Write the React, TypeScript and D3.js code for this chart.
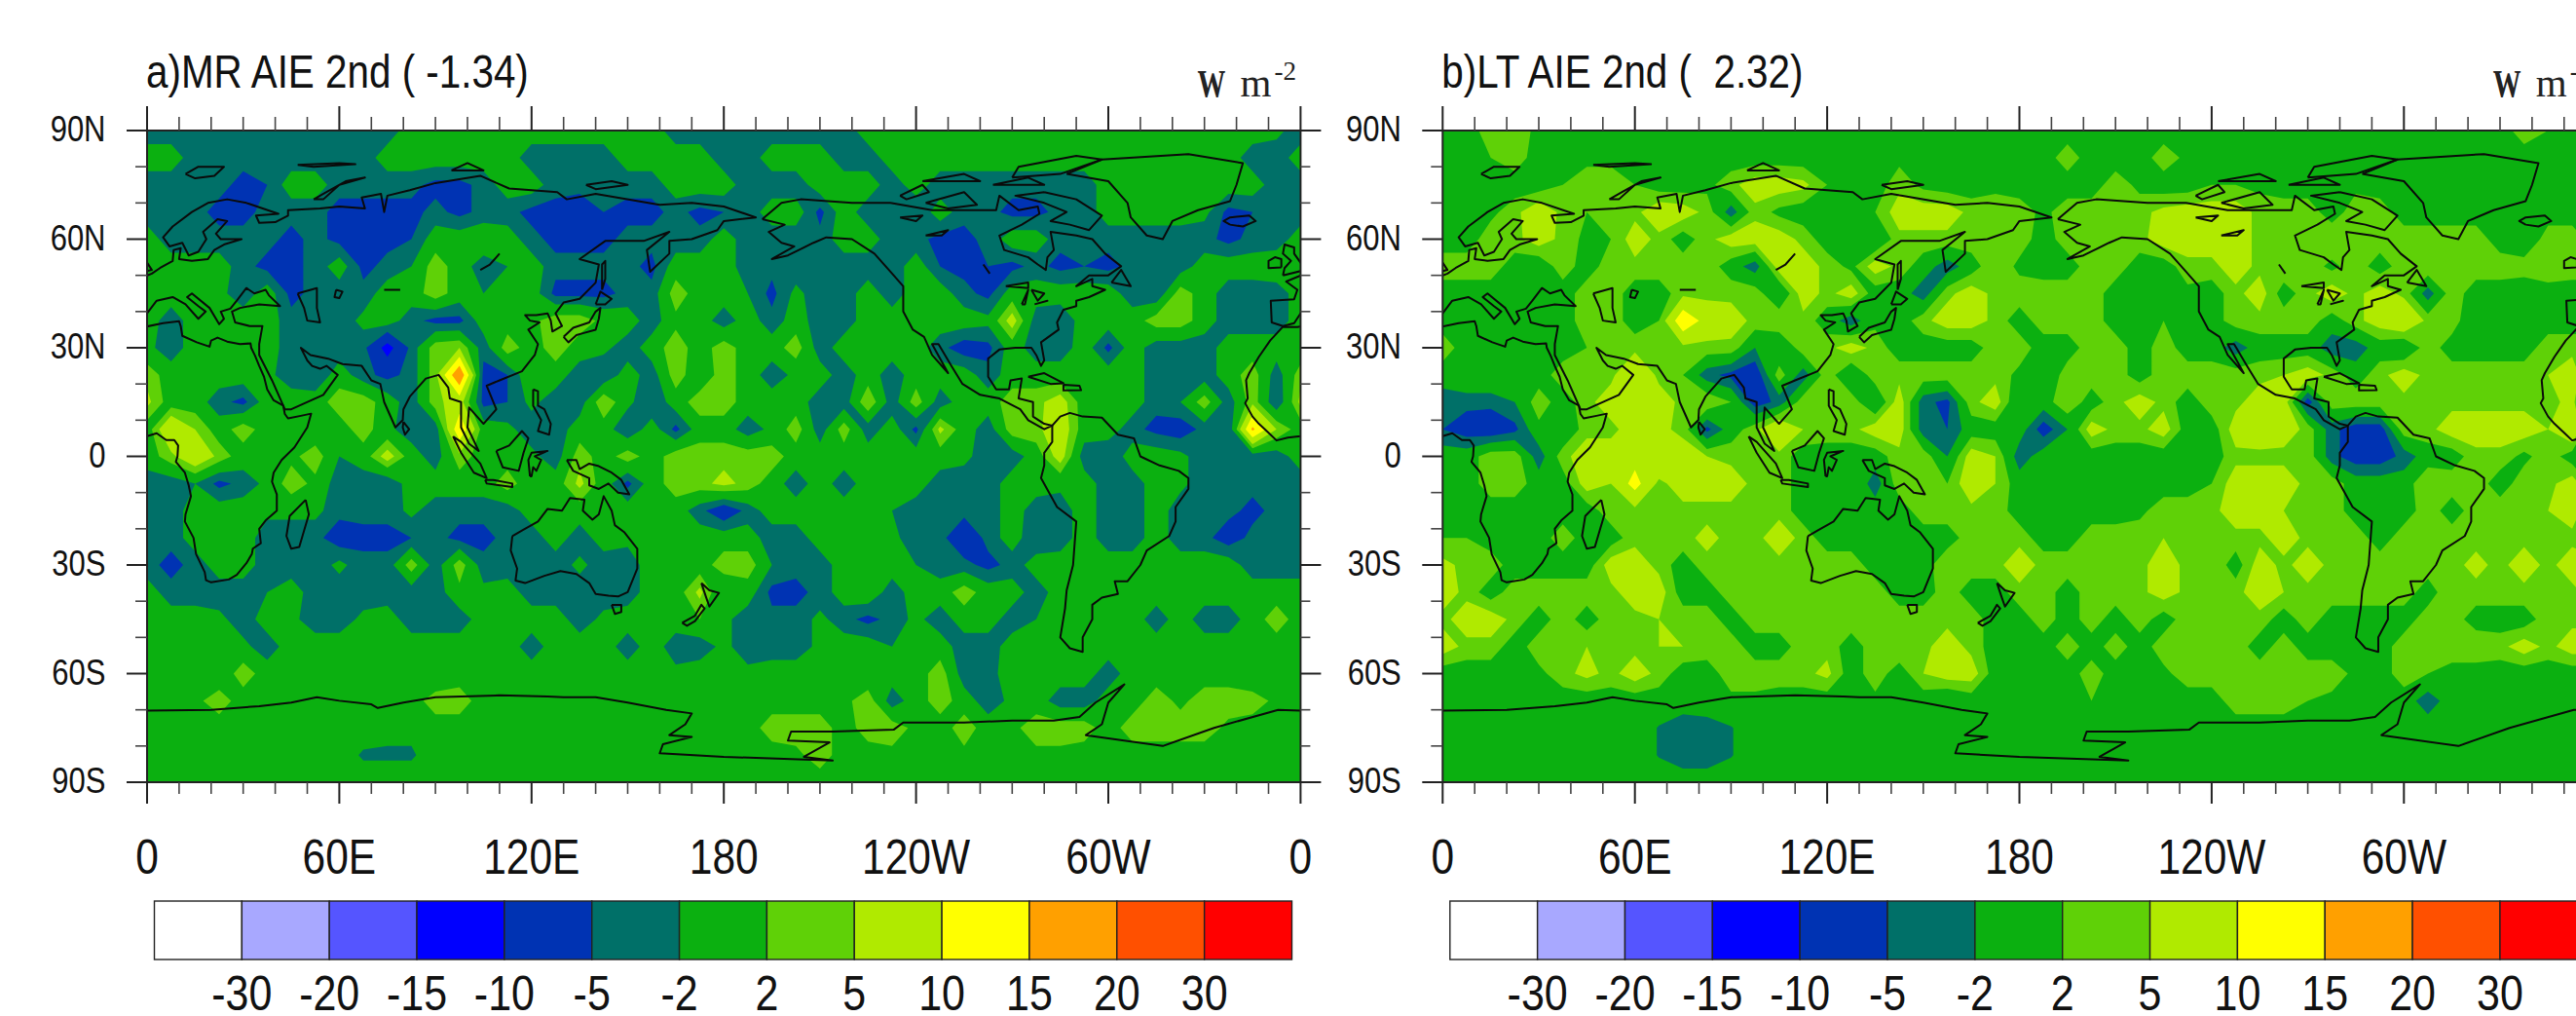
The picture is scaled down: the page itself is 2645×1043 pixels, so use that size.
import React from 'react';
import * as d3 from 'd3';

const width = 2645;
const height = 1043;

// grid spacing of the read-off fields (degrees), rows run 90N -> 90S, columns 0 -> 352.5E
const gridStep = 7.5;

const levels = [-30, -20, -15, -10, -5, -2, 2, 5, 10, 15, 20, 30];
const levelLabels = ['-30', '-20', '-15', '-10', '-5', '-2', '2', '5', '10', '15', '20', '30'];
const colors = ['#ffffff', '#a8a8ff', '#5555ff', '#0000ff', '#0033b3', '#007068', '#0bb010', '#5fd107', '#b0ea00', '#ffff00', '#ffa000', '#ff5000', '#ff0000'];

const lonTicks = [0, 60, 120, 180, 240, 300, 360];
const lonLabels = ['0', '60E', '120E', '180', '120W', '60W', '0'];
const latTicks = [90, 60, 30, 0, -30, -60, -90];
const latLabels = ['90N', '60N', '30N', '0', '30S', '60S', '90S'];

const mrField = [
  [-4,-4,-4,-4,-4,-4,-4,-4,-4,-4,-4,0,0,0,0,0,0,0,0,0,0,0,-4,-4,-4,-4,-4,-4,-4,-4,0,0,0,0,0,0,0,0,0,0,0,0,0,0,0,0,0,-1],
  [0,0,-4,-4,-4,-4,-4,-4,-4,-4,0,0,0,0,0,0,-4,-4,-4,-4,0,0,0,0,-4,-4,0,0,0,-4,-4,0,0,0,0,0,0,0,0,0,0,0,0,0,0,0,-4,-4],
  [-4,-4,-4,-4,-6,-5,0,0,-4,-4,-4,-4,-6,-6,-4,0,0,-4,-4,-4,-4,-4,0,0,0,-4,-4,-4,0,0,0,-4,0,-4,-4,-4,-4,-4,-4,-4,0,0,0,0,0,0,0,-4],
  [-4,-4,-4,-6,-6,-4,-4,-4,-6,-6,-6,-6,-4,-6,-4,-4,-6,-6,-7,-5,-6,-6,-4,-6,-5,-4,0,0,-6,0,-4,-5,-5,0,-4,-4,-6,-6,-4,-4,0,0,0,0,-1,-6,-5,-4],
  [0,-4,-4,-4,-4,-4,-6,-4,-6,-6,-6,-5,0,0,1,0,-4,-6,-6,-6,-4,-4,-4,-4,0,-4,-4,-4,-4,0,0,-4,-4,-6,-6,-4,0,0,-4,-4,-4,-4,-4,-4,-4,-6,-4,-4],
  [-1,0,0,0,-4,-6,-6,-4,0,-6,-4,-2,4,0,-4,-2,0,-4,-4,-4,-4,-6,0,0,0,-4,-4,-4,-4,-4,-4,-4,0,-5,-6,-5,-6,-4,-6,-5,-6,-4,-4,-4,0,0,0,1],
  [0,0,0,-1,-4,0,-6,-4,-4,-4,0,0,4,0,-2,0,0,-6,-6,-6,-4,-4,4,0,0,-2,-6,-1,-4,-4,0,-4,0,0,-4,-6,0,0,0,0,0,-4,-5,4,0,-4,-4,-4],
  [0,-4,0,0,0,0,-4,-4,-4,-1,0,-4,-6,-6,0,0,1,4,4,1,0,-4,1,0,-4,0,-4,0,-4,-4,0,0,0,0,0,-1,7,-4,-5,0,0,0,4,4,0,-4,-4,-4],
  [-1,-4,0,0,0,0,-4,-4,-4,-4,-12,-4,4,5,-4,4,0,4,0,-1,-4,0,4,0,4,0,0,4,-4,0,0,0,0,-4,-7,-6,0,-4,-4,0,-6,0,-4,-4,-4,0,0,0],
  [4,0,-1,0,0,-1,-4,-5,0,-4,-6,-4,4,20,-6,-5,1,0,-4,-5,0,-4,4,-1,4,0,-4,-1,0,-4,0,-4,0,0,0,-4,0,0,0,0,0,0,-4,-4,-4,0,4,-4],
  [6,0,0,-4,-6,0,0,0,4,4,0,-4,4,7,-6,-5,-1,-4,-4,5,-1,-5,0,4,4,0,0,0,-4,-4,5,-4,4,-4,0,0,4,4,7,0,0,0,-4,-2,4,-4,4,-5],
  [0,10,5,0,4,0,0,-1,0,4,-1,-4,-4,14,0,-1,-4,-4,0,0,-5,0,-6,0,0,-4,-1,4,-4,4,-4,0,-6,6,0,-4,4,4,8,0,0,-4,-6,-7,-4,-5,16,5],
  [0,4,9,4,0,0,1,4,-2,0,7,0,-4,4,0,0,-1,-4,4,0,4,0,4,4,4,4,4,0,0,0,0,0,0,0,-1,-4,-4,0,7,-4,-5,0,0,-1,-4,-4,-4,-4],
  [-4,-4,-2,-6,-4,-1,4,1,-4,-4,-5,0,0,0,0,4,-1,0,6,0,-6,0,4,4,6,4,0,-4,0,-4,0,0,0,-4,-4,-4,0,0,-1,0,-4,-4,0,-1,-4,-4,-4,-4],
  [-4,-4,0,0,0,-1,-1,-1,-4,-4,-4,-1,-4,-4,-4,-4,0,0,0,0,0,-1,0,-4,-8,-4,0,0,0,0,0,-2,-4,-4,-4,-4,0,-4,-4,0,-4,-4,0,-4,-4,-4,-6,-4],
  [-4,-4,0,0,0,-4,-4,-4,-7,-6,-6,-5,-4,-6,-6,-4,-4,0,-4,0,-1,0,0,0,0,0,-4,-4,0,0,0,-1,-4,-4,-8,-4,0,-5,-4,0,-4,-4,0,-4,-4,-7,-4,-4],
  [-4,-6,-4,0,0,-4,-4,-4,-1,-4,-4,4,-4,4,-4,-4,-4,-4,-1,-4,-4,0,0,0,4,4,-2,-4,-4,0,0,0,-2,-4,-4,-6,-4,0,0,0,0,0,0,0,0,0,-4,-4],
  [0,-4,-4,-4,-4,-2,0,-4,-4,-4,-4,-4,-4,1,-1,0,-4,-4,-4,-4,-4,0,0,6,-2,0,-6,-6,-4,0,1,-4,0,0,4,0,0,-4,0,0,0,0,0,0,0,0,0,0],
  [0,0,0,-1,-4,0,-1,-4,-4,-1,0,-4,-4,-4,0,0,0,0,-4,-1,0,0,0,2,-1,-4,-4,-4,-1,-4,-6,-4,-1,-4,0,0,-4,-2,0,0,0,0,-4,0,-4,-4,0,4],
  [0,0,0,0,-1,-4,0,0,0,0,0,0,0,0,0,0,-4,0,0,0,-4,0,-4,-4,-1,-4,-4,-4,-1,0,0,-2,-1,0,-4,-4,0,-1,-1,0,0,0,0,0,0,0,0,0],
  [0,0,0,-1,4,0,-1,0,0,0,-2,-2,-2,0,0,0,0,0,0,0,0,1,-1,0,0,-1,0,0,0,0,-1,0,0,4,-4,-4,1,0,0,0,-4,0,0,0,0,0,-2,0],
  [0,0,1,4,0,0,0,0,0,0,0,0,4,4,0,0,0,0,2,0,0,0,0,-1,0,0,0,0,0,1,4,-4,0,4,0,-4,-1,0,-4,-4,0,0,4,1,4,4,4,1],
  [0,0,0,0,0,0,0,0,0,0,-1,-1,0,0,0,0,0,0,0,0,0,0,0,1,0,0,4,4,4,0,4,4,1,0,4,0,1,4,4,4,0,4,4,4,4,1,0,0],
  [0,0,0,0,0,0,0,0,0,-2.5,-2.5,-2.5,0,0,0,0,0,0,0,0,0,0,0,0,0,0,0,1,4,0,0,1,0,0,1,0,1,1,1,0,0,0,0,0,0,0,0,0],
  [0,0,0,0,0,0,0,0,0,0,0,0,0,0,0,0,0,0,0,0,0,0,0,0,0,0,0,0,0,0,0,0,0,0,0,0,0,0,0,0,0,0,0,0,0,0,0,0],
];

const ltField = [
  [0,0,4,4,1,0,0,0,0,0,0,0,0,0,0,0,0,0,0,0,0,0,0,0,0,0,0,0,0,0,0,0,0,0,0,0,0,0,0,0,0,0,0,0,0,4,2,0],
  [0,0,2,4,0,1,1,1,0,0,1,0,0,0,0,0,0,0,2,1,0,1,0,0,0,0,4,0,0,0,4,1,0,0,0,0,0,0,0,0,0,0,0,0,0,0,0,0],
  [2,0,0,0,0,2,4,4,2,0,0,1,4,7,7,6,2,0,0,4,1,0,0,1,0,0,0,0,4,1,0,0,2,2,1,0,0,0,1,0,0,0,0,0,0,0,0,0],
  [1,0,1,4,8,4,2,2,4,8,7,4,-4,4,1,0,0,0,2,7,7,7,4,4,4,1,4,4,4,4,6,7,7,7,4,4,4,0,4,4,0,0,0,0,0,0,0,0],
  [0,0,4,4,7,4,1,2,7,4,0,4,7,7,7,4,0,0,-2,4,4,4,4,4,4,0,4,4,4,4,7,7,7,7,4,4,4,5,4,4,4,4,4,4,0,-2,4,4],
  [4,4,4,0,-1,4,0,4,4,4,4,4,0,-4,7,7,4,1,7,4,0,-4,0,5,1,0,0,4,4,0,0,4,4,7,4,5,4,1,4,0,4,5,4,4,4,4,5,4],
  [0,0,0,1,0,0,4,4,0,0,4,4,4,4,-2,7,4,7,0,0,-4,4,7,4,4,4,4,4,0,0,0,1,0,4,7,0,4,7,4,7,4,-4,4,0,0,-1,0,0],
  [0,0,0,0,0,0,4,4,0,2,14,8,7,4,5,4,0,-4,1,0,4,7,7,4,0,4,4,4,0,0,2,0,0,4,4,4,4,0,4,7,10,4,4,-2,0,-2,0,0],
  [4,0,0,0,0,0,2,4,4,4,4,4,4,-2,-2,4,4,7,4,0,0,0,0,4,4,0,0,4,4,0,4,0,0,-4,0,0,0,-4,-4,0,-2,4,0,0,0,0,4,4],
  [0,2,2,0,0,4,4,4,10,4,2,-4,-6,-8,4,-4,4,-2,4,4,4,4,4,4,1,-2,4,4,4,0,4,4,4,4,4,5,7,4,0,4,7,4,4,4,4,4,5,7],
  [-4,-4,-4,-2,4,0,4,7,7,7,4,5,2,-7,-4,4,4,4,-2,7,-4,-6,4,7,-2,0,5,0,4,7,4,0,4,4,7,7,-7,4,4,4,4,4,4,4,4,4,4,6],
  [-5,-7,-8,-6,1,-2,4,4,7,6,4,-6,0,4,10,5,4,4,7,7,-4,-5,0,0,0,-7,-2,7,4,4,7,0,0,7,8,7,4,-4,-7,-7,4,4,7,7,7,7,5,10],
  [0,0,4,4,-4,4,7,7,8,10,7,5,4,5,4,0,0,0,0,4,4,-2,7,5,-4,0,0,0,0,0,0,0,0,4,4,4,4,-4,-7,-7,-4,0,0,4,4,1,4,0],
  [0,0,4,4,0,0,7,5,12,4,7,7,7,4,4,0,2,2,-4,4,5,2,8,5,0,0,0,0,0,0,0,0,2,7,7,7,4,4,0,0,0,5,4,4,0,4,4,7],
  [1,0,0,0,0,0,0,4,4,4,4,4,4,4,4,0,0,0,0,0,4,4,4,4,0,0,0,0,0,1,4,4,4,7,7,5,4,4,0,0,0,4,0,4,4,4,5,7],
  [2,2,0,0,0,4,0,0,4,4,4,6,4,4,7,4,0,0,0,0,0,0,4,4,4,0,0,4,4,4,5,4,4,4,4,7,4,4,4,0,4,4,4,4,4,4,4,4],
  [6,4,4,0,0,0,0,7,7,4,0,4,4,4,4,4,4,4,0,0,0,5,4,4,7,4,4,5,4,4,7,4,5,0,7,4,7,4,4,4,4,4,4,6,4,7,4,7],
  [7,4,0,4,4,4,4,4,7,7,0,0,4,4,4,4,4,4,4,0,0,4,0,0,4,4,0,4,4,4,7,4,4,4,7,5,4,4,4,4,4,0,5,4,4,4,5,4],
  [4,7,7,4,0,4,0,4,4,5,4,4,0,4,4,4,4,4,4,4,4,4,4,0,0,4,0,4,0,4,0,4,4,4,4,0,4,0,0,0,0,4,4,0,0,0,4,4],
  [7,4,4,0,4,4,5,4,4,5,5,4,4,0,0,4,4,0,4,5,4,7,4,0,0,0,4,0,4,0,4,4,4,4,0,4,0,0,0,0,4,4,5,5,4,7,4,7],
  [0,0,0,0,1,4,6,4,7,4,0,0,4,4,4,4,6,0,4,0,5,7,7,0,0,0,0,4,0,0,1,4,4,4,4,4,4,4,1,0,4,2,0,0,0,0,0,0],
  [0,0,0,0,0,0,0,0,0,0,0,1,1,1,0,0,0,0,1,0,0,-2,0,0,0,0,0,2,0,0,0,0,0,4,4,4,2,1,1,0,0,-4,0,0,0,0,0,0],
  [0,0,0,0,0,0,0,0,0,-2.2,-4,-4,-2.2,0,0,0,0,0,0,0,0,0,0,0,0,0,0,0,0,0,0,0,0,0,0,0,0,0,0,0,0,0,0,0,0,0,0,0],
  [0,0,0,0,0,0,0,0,0,-2.2,-4,-4,-2.2,0,0,0,0,0,0,0,0,0,0,0,0,0,0,0,0,0,0,0,0,0,0,0,0,0,0,0,0,0,0,0,0,0,0,0],
  [0,0,0,0,0,0,0,0,0,0,0,0,0,0,0,0,0,0,0,0,0,0,0,0,0,0,0,0,0,0,0,0,0,0,0,0,0,0,0,0,0,0,0,0,0,0,0,0],
];

// rough coastlines [lon, lat], drawn twice (+360) so the map can run 0 -> 360
const coastlines: number[][][] = [
  // africa
  [[-5.5,35.8],[-9.5,32],[-13,27.5],[-16,23],[-17,21],[-16.5,16],[-17.3,14.7],[-15,11],[-13,9],[-10,6.5],[-7.5,4.4],[-4,5.2],[0,5.6],[3,6.4],[6,4.5],[8.5,4.5],[9.7,3],[9.5,0],[9,-1.5],[11.8,-4.5],[13,-8],[13.7,-11],[12,-16],[11.8,-18],[14.5,-22.5],[15.3,-27],[18,-32],[18.4,-34.2],[20,-34.8],[25.5,-34],[28,-32.7],[31,-29.5],[32.7,-27],[33,-25.5],[35.5,-24],[35,-20],[37,-17.7],[40.5,-15],[40.5,-10.5],[39,-7],[39.5,-4.5],[42,-1],[46,2.5],[50,8],[51.2,11.8],[48,11.2],[44,10.5],[43,11.7],[42.5,14],[39.5,15.5],[37.5,18.5],[36.5,22],[35,25],[33.7,27.8],[32.5,30],[32.3,31.2],[29,31],[25,31.7],[22,32.8],[20,32],[19.5,30.3],[15.5,31.5],[11,33.3],[10.5,36],[10,37.3],[5,36.8],[-1,35.7],[-5.5,35.8]],
  // eurasia
  [[-5.5,36],[-9,37],[-9.3,43],[-2,43.4],[-1,46],[-4.5,48.3],[1.5,50.5],[4,52],[8,54],[8.3,57],[10.5,57.5],[10,54.5],[14,54],[19,54.5],[21,57],[24,58.5],[29.5,60],[23,60],[21.5,61.5],[25,65],[22,65.5],[17.5,62],[18.5,60],[16,56.5],[13,55.5],[11,59],[7,58],[5,60.5],[8,63.5],[14,67.5],[19,70],[25,71],[31,70],[41,67],[34,66.5],[35,64.5],[40,64.7],[44,66.5],[44,68],[54,68.5],[60,69],[68,68.5],[67,71.5],[73,72.5],[74,67.5],[75,72],[82,73.5],[90,75.5],[104,77.5],[113,74],[128,73],[131,71],[140,72.5],[160,69.5],[170,70],[180,69],[190,66],[180,65],[178,62.5],[170,60],[163,59.5],[163,56],[157,51],[156,57],[163,62],[155,59.5],[143,59.5],[135,54.5],[141,53],[140,48],[135,43.5],[130,42.5],[127.5,39.5],[129.5,36],[126.5,34.5],[126,37.5],[125,39.5],[121.5,39],[118,39],[119.5,37.5],[122.5,37],[119,35],[122,31],[121,28],[117,23.5],[110,21],[106,19.5],[109,13],[105,9],[100.5,13.5],[100,8],[103.5,1.5],[100.5,3.5],[98,8],[98,15],[94.5,16],[94,19],[91,22.5],[87,21.5],[82,16.5],[80,13],[79.8,10],[77.5,8],[74,15],[72.8,20],[70,21],[67,25],[61,25.5],[56.5,27],[51,28],[48,30],[50,26.5],[51.5,25],[54,24.2],[56,25],[59.5,22.5],[55,17],[45,13],[43,13],[39,21],[35,28],[35,31],[36,36],[32,36],[27.5,37],[26.5,40],[29,41],[35,42],[41.5,41.5],[38,44.5],[37,46],[33.5,45],[31,46.5],[28,43],[26,40.8],[23,40],[24,38],[22.5,36.5],[19.5,41],[14,45],[12.5,44],[16,41.5],[18.3,40],[16,38],[12,42],[8,44],[3,43],[0,39.5],[-2,36.8],[-5.5,36]],
  // islands, eastern hemisphere
  [[-5.5,50],[1.5,51.5],[0,53.5],[-2,56],[-2,57.7],[-5,58.5],[-5.5,56],[-3,54],[-5,52],[-5.5,50]],
  [[-6,52.2],[-10,52],[-10,54],[-8,55],[-6,54.5],[-6,52.2]],
  [[49.5,-12],[50.5,-16],[47.5,-25],[45,-25.5],[43.5,-22],[44.5,-16.5],[49.5,-12]],
  [[80,9.5],[81.8,7.5],[80.5,6],[79.8,8],[80,9.5]],
  [[130,33],[131.5,31.5],[134,33.5],[136,34],[140,35],[141,38],[141.5,41],[140,40],[138,37],[133,35.5],[130,33]],
  [[140,42],[141.5,45.5],[145,43.5],[143,42],[140,42]],
  [[142,46],[143,49],[143,54],[142,53],[142,46]],
  [[120.5,18.5],[122,18],[122,14],[124,13],[126,9],[125.5,6],[122,7],[123,10],[120.5,14],[120.5,18.5]],
  [[109,1.5],[113,3],[117,7],[119,5],[117.5,1],[116,-4],[111,-3],[109,1.5]],
  [[95.5,5.5],[98,4],[104,-2],[106,-6],[102,-4.5],[98,1],[95.5,5.5]],
  [[105.5,-6.5],[108,-6.5],[114,-7.5],[114,-8.5],[106,-7.5],[105.5,-6.5]],
  [[119.5,-5.5],[119,-1],[120,1],[125,1.5],[121,0],[123,-1],[121.5,-4],[120.5,-3],[120,-5.5],[119.5,-5.5]],
  [[131,-1],[134,-1],[135,-3.5],[138,-2],[141,-2.7],[145,-4.5],[148,-6.5],[150.5,-10.5],[147,-10],[144,-7.5],[141,-9],[138,-8],[138,-6],[133,-4],[131,-1]],
  [[114,-22],[113.5,-26],[115.5,-31],[115,-34.3],[118,-35],[124,-33],[129,-31.7],[134,-32.5],[138,-35],[140,-38],[144,-38.5],[147,-38.7],[150,-37.5],[153,-31],[153,-25.5],[149,-21],[146,-19],[145,-15],[142.5,-11],[141,-16],[139,-17.5],[136,-15],[136.5,-12],[132,-11.5],[129.5,-15],[125,-14.5],[122,-18],[117,-20.5],[114,-22]],
  [[145,-41],[148,-41],[148,-43],[146,-43.5],[145,-41]],
  [[167,-46],[171,-44],[173,-41],[174,-42],[171,-45.5],[168.5,-46.8],[167,-46]],
  [[173,-35],[175.5,-37],[178.5,-37.7],[175.5,-41.5],[174.5,-39],[173,-35]],
  [[12,78],[16,80],[24,80],[21,77.5],[15,76.8],[12,78]],
  [[52,71],[56,73],[62,76],[68,77],[60,75],[55,71],[52,71]],
  [[95,79],[100,81],[105,79],[95,79]],
  [[47,80.5],[60,81],[65,80.7],[52,80],[47,80.5]],
  [[137,75],[145,76],[150,75],[140,73.8],[137,75]],
  // inland water
  [[47,45],[53,46.5],[53,41],[54,37],[50,37.5],[49,41],[47,45]],
  [[59,46],[61,45.5],[60,43.7],[58.5,44],[59,46]],
  [[74,46],[79,46]],
  [[104,51.5],[107,53],[110,56]],
  // greenland, iceland
  [[-73,78],[-62,82],[-35,83.5],[-18,81],[-20,75],[-22,70.5],[-32,68],[-40,65],[-43,60],[-48,61],[-53,66],[-54,70],[-60,76],[-73,78]],
  [[-22,64],[-18,63.5],[-14,65],[-16,66.5],[-22,66],[-24,65],[-22,64]],
  // north america
  [[-168,65.5],[-162,70],[-156,71],[-140,70],[-128,70],[-115,68],[-108,68],[-95,68],[-94,72],[-88,68],[-82,69],[-81.5,67],[-87,64],[-94,61],[-92.5,57],[-85,55],[-82,53],[-79.5,51.5],[-79,55],[-77,57],[-78,62],[-70,61],[-65,60],[-61,56],[-56,52.5],[-60,50],[-66,50],[-70,47],[-65,49],[-65,47],[-61,46],[-66,44],[-70,43],[-70,41.5],[-74,40.5],[-76,37],[-75.5,35],[-81,31.5],[-80,26.5],[-81,25],[-82.5,28],[-84,30],[-89,30],[-94,29.5],[-97.5,27],[-97.5,22],[-95,18.5],[-91,18.5],[-90.5,21],[-87,21.5],[-88,16],[-83.5,15],[-83.5,11],[-80,9],[-77.5,8.5],[-80,7.5],[-85,10],[-87.5,13],[-94,16],[-100,17],[-105.5,20],[-109,25],[-113,31],[-115,31],[-110,23],[-115,28],[-117.5,33],[-121,35],[-124,40],[-124,47],[-128,51],[-133,56],[-140,60],[-148,60.5],[-152,59],[-160,55.5],[-165,54.5],[-158,58],[-162,59],[-166,62],[-161,64],[-168,65.5]],
  [[-80,73],[-70,71],[-62,66.5],[-66,62.5],[-72,64],[-78,65],[-73,67.5],[-80,70],[-89,72],[-80,73]],
  [[-117,70],[-105,73],[-101,69.5],[-110,68.5],[-117,70]],
  [[-125,72],[-118,75],[-116,73],[-123,71],[-125,72]],
  [[-90,77],[-88,80],[-70,83],[-62,82],[-75,78],[-90,77]],
  [[-96,75],[-80,75],[-85,77],[-96,75]],
  [[-118,76],[-100,76],[-105,78],[-118,76]],
  [[-59,48],[-56,51.5],[-53,47],[-59,48]],
  [[-92,47],[-85,48],[-85,46.5],[-92,47]],
  [[-87,42],[-85,46],[-86,42],[-87,42]],
  [[-84,46],[-80,45],[-82,43],[-84,46]],
  [[-83,42],[-79,43],[-83,42]],
  [[-125,66],[-118,66.5],[-120,65],[-125,66]],
  [[-117,61],[-110,62.5],[-112,61],[-117,61]],
  [[-99,53],[-97,50.5]],
  [[-85,22],[-80,23],[-74,20.2],[-78,20],[-85,22]],
  [[-74,19.8],[-69,19.5],[-68.5,18.3],[-74,18.2],[-74,19.8]],
  // south america
  [[-77.5,8.5],[-75,11],[-72,12],[-68,11],[-62,10.7],[-57,6],[-52,5],[-50,0],[-44,-2.5],[-38,-4],[-35,-6],[-35,-9],[-39,-14],[-39,-18],[-41,-22],[-48,-26],[-50,-30],[-54,-34.5],[-58,-34.5],[-57,-38],[-62,-39],[-65,-41],[-65,-45],[-68,-50],[-68,-54],[-72,-53],[-75,-50],[-73.5,-42],[-73,-37],[-71,-30],[-70,-18],[-76,-14],[-81,-6],[-80,-2.5],[-80,1],[-77.5,4],[-77.5,8.5]],
  // antarctica
  [[0,-70.2],[20,-70],[35,-69],[45,-68],[53,-66.5],[60,-67.5],[70,-68.5],[72,-69.5],[80,-68],[90,-66.5],[110,-66],[125,-66.3],[130,-66.5],[140,-66.5],[150,-68],[162,-70],[170,-71],[168,-74],[163,-77],[170,-77.5],[161,-79.5],[160,-82],[180,-83],[214,-84],[205,-83],[213,-79],[200,-78.5],[201,-76],[214,-76],[233,-75.5],[236,-73.5],[255,-73.5],[270,-73],[283,-73],[291,-72],[296,-68],[305,-63],[300,-68],[298,-74],[293,-77],[317,-80],[333,-75],[353,-70],[360,-70.2]],
];

const mapWidth = 1184.4;
const mapTop = 134;
const mapBottom = 803;
const sansFont = '"Liberation Sans", Arial, sans-serif';
const serifFont = '"Liberation Serif", serif';
// the reference is a bit stretched vertically
const stretch = 1.18;

const Label = ({ x, y, size, anchor = 'middle', children }: any) => (
  <text
    transform={`translate(${x},${y}) scale(1,${stretch})`}
    fontFamily={sansFont}
    fontSize={size}
    textAnchor={anchor}
    fill="#111"
    style={{ whiteSpace: 'pre' }}
  >
    {children}
  </text>
);

const Panel = ({ id, left, title, field }: any) => {
  const xScale = d3.scaleLinear().domain([0, 360]).range([left, left + mapWidth]);
  const yScale = d3.scaleLinear().domain([90, -90]).range([mapTop, mapBottom]);

  // wrap the first column round to 360 so the field closes at the right edge
  const rows: number[][] = field.map((r: number[]) => [...r, r[0]]);
  const nx = rows[0].length;
  const ny = rows.length;
  const bands = d3.contours().size([nx, ny]).thresholds(levels)(rows.flat());

  // contour coords have the value of cell i at i + 0.5
  const gridPath = d3.geoPath(
    d3.geoTransform({
      point(x: number, y: number) {
        (this as any).stream.point(xScale((x - 0.5) * gridStep), yScale(90 - (y - 0.5) * gridStep));
      },
    })
  );

  const coastLine = d3.line<number[]>().x(d => xScale(d[0])).y(d => yScale(d[1]));

  const lonMinor = d3.range(0, 361, 10).filter(d => d % 60 !== 0);
  const latMinor = d3.range(-90, 91, 10).filter(d => d % 30 !== 0);

  const legendX = d3.scaleLinear().domain([0, colors.length]).range([left + 7.5, left + 1175.5]);
  const right = left + mapWidth;

  return (
    <g>
      <clipPath id={id}>
        <rect x={left} y={mapTop} width={mapWidth} height={mapBottom - mapTop} />
      </clipPath>

      <g clipPath={`url(#${id})`}>
        <rect x={left} y={mapTop} width={mapWidth} height={mapBottom - mapTop} fill={colors[0]} />
        {bands.map((b, i) => (
          <path key={i} d={gridPath(b as any) || ''} fill={colors[i + 1]} />
        ))}
        {[0, 360].map(off =>
          coastlines.map((c, i) => (
            <path
              key={`${off}-${i}`}
              d={coastLine(c.map(p => [p[0] + off, p[1]])) || ''}
              fill="none"
              stroke="#0a0a0a"
              strokeWidth={2}
              strokeLinejoin="round"
            />
          ))
        )}
      </g>

      <rect x={left} y={mapTop} width={mapWidth} height={mapBottom - mapTop} fill="none" stroke="#222" strokeWidth={2} />

      {/* x ticks top and bottom */}
      {lonTicks.map(d => (
        <g key={d} stroke="#222" strokeWidth={2}>
          <line x1={xScale(d)} x2={xScale(d)} y1={mapTop} y2={mapTop - 25} />
          <line x1={xScale(d)} x2={xScale(d)} y1={mapBottom} y2={mapBottom + 22} />
        </g>
      ))}
      {lonMinor.map(d => (
        <g key={d} stroke="#444" strokeWidth={1.6}>
          <line x1={xScale(d)} x2={xScale(d)} y1={mapTop} y2={mapTop - 14} />
          <line x1={xScale(d)} x2={xScale(d)} y1={mapBottom} y2={mapBottom + 12} />
        </g>
      ))}
      {/* y ticks left and right */}
      {latTicks.map(d => (
        <g key={d} stroke="#222" strokeWidth={2}>
          <line x1={left} x2={left - 21} y1={yScale(d)} y2={yScale(d)} />
          <line x1={right} x2={right + 21} y1={yScale(d)} y2={yScale(d)} />
        </g>
      ))}
      {latMinor.map(d => (
        <g key={d} stroke="#444" strokeWidth={1.6}>
          <line x1={left} x2={left - 12} y1={yScale(d)} y2={yScale(d)} />
          <line x1={right} x2={right + 10} y1={yScale(d)} y2={yScale(d)} />
        </g>
      ))}

      {latTicks.map((d, i) => (
        <Label key={d} x={left - 42.5} y={yScale(d) + 11} size={31} anchor="end">
          {latLabels[i]}
        </Label>
      ))}
      {lonTicks.map((d, i) => (
        <Label key={d} x={xScale(d)} y={897} size={42.5}>
          {lonLabels[i]}
        </Label>
      ))}

      <Label x={left - 1} y={90} size={40.4} anchor="start">
        {title}
      </Label>

      {/* units */}
      <g fontFamily={serifFont} fill="#222">
        <text transform={`translate(${right - 106},99) scale(0.72,1)`} fontSize={40} fontWeight="bold">W</text>
        <text transform={`translate(${right - 62},99)`} fontSize={41}>m</text>
        <text transform={`translate(${right - 27},82)`} fontSize={27}>-2</text>
      </g>

      {/* label bar */}
      {colors.map((c, i) => (
        <rect
          key={i}
          x={legendX(i)}
          y={925}
          width={legendX(i + 1) - legendX(i)}
          height={60}
          fill={c}
          stroke="#222"
          strokeWidth={1.4}
        />
      ))}
      {levelLabels.map((t, i) => (
        <Label key={t} x={legendX(i + 1)} y={1037} size={43}>
          {t}
        </Label>
      ))}
    </g>
  );
};

export default function App() {
  return (
    <svg
      width={width}
      height={height}
      style={{ position: 'absolute', left: 0, top: 0, display: 'block', background: '#fff' }}
    >
      <Panel id="clipA" left={151} title="a)MR AIE 2nd ( -1.34)" field={mrField} />
      <Panel id="clipB" left={1481.3} title="b)LT AIE 2nd (  2.32)" field={ltField} />
    </svg>
  );
}
